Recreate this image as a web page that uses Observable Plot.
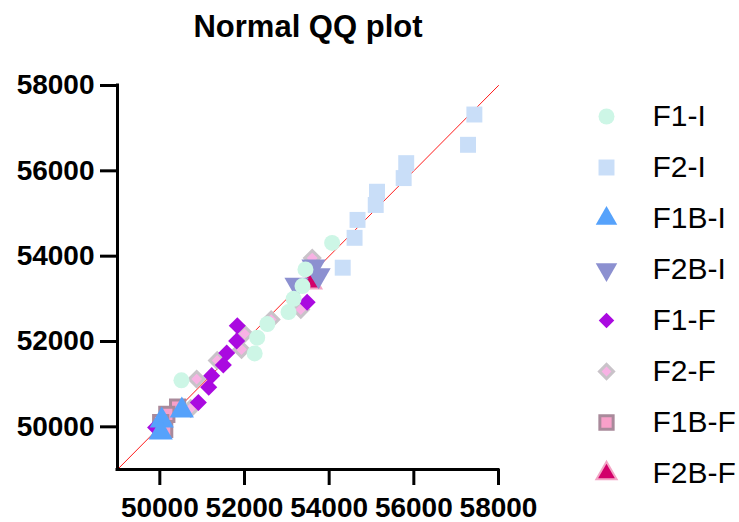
<!DOCTYPE html>
<html>
<head>
<meta charset="utf-8">
<script src="https://cdn.jsdelivr.net/npm/d3@7"></script>
<script src="https://cdn.jsdelivr.net/npm/@observablehq/plot@0.6"></script>
<style>
  html, body { margin: 0; padding: 0; background: #fff; }
  #wrap { position: relative; width: 739px; height: 522px; font-family: "Liberation Sans", Arial, sans-serif; }
  #title { position: absolute; left: 0; top: 11px; width: 616px; text-align: center; font-size: 31px; line-height: 31px; font-weight: bold; color: #000; }
  #main { position: absolute; left: 0; top: 0; }
  #legend { position: absolute; left: 579px; top: 0; }
</style>
</head>
<body>
<div id="wrap">
  <div id="main"></div>
  <div id="legend"></div>
  <div id="title">Normal QQ plot</div>
</div>
<script>
// ---- data ----
const seriesNames = ["F1-I", "F2-I", "F1B-I", "F2B-I", "F1-F", "F2-F", "F1B-F", "F2B-F"];
const axisDomain = [49000, 58000];
const xTicks = [50000, 52000, 54000, 56000, 58000];
const yTicks = [50000, 52000, 54000, 56000, 58000];
const refLine = [49000, 58000];

const f1iX = [54070, 53440, 53370, 53160, 53040, 52540, 52300, 52240, 50510];
const f1iY = [54310, 53690, 53300, 53000, 52690, 52410, 52090, 51720, 51090];

const f2iX = [57430, 57280, 55820, 55760, 55130, 55100, 54670, 54600, 54320];
const f2iY = [57320, 56610, 56180, 55830, 55510, 55200, 54850, 54430, 53730];

const f1biX = [50520, 50045, 50020];
const f1biY = [50380, 50150, 49870];

const f2biX = [53630, 53750, 53230];
const f2biY = [53760, 53550, 53330];

const f1fX = [53480, 51830, 51815, 51580, 51500, 51225, 51155, 50910, 49900];
const f1fY = [52920, 52370, 52010, 51730, 51450, 51200, 50930, 50570, 49985];

const f2fX = [53600, 53330, 52630, 52000, 51930, 51355, 50870, 50730];
const f2fY = [53955, 52750, 52515, 52180, 51810, 51555, 51120, 50430];

const f1bfX = [50420, 50165, 50020, 50115];
const f1bfY = [50465, 50290, 50100, 49940];

const f2bfX = [53560];
const f2bfY = [53390];

// ---- styles ----
const styles = {
  "F1-I":  {symbol: "circle",   r: 8,   fill: "#cdf6e6"},
  "F2-I":  {symbol: "square",   r: 9,   fill: "#c9def8"},
  "F1B-I": {symbol: "triangle", r: 9,   fill: "#56a2fb"},
  "F2B-I": {symbol: "triangle", r: 9,   fill: "#8c90d0", rotate: 180},
  "F1-F":  {symbol: "square",   r: 6.8, fill: "#aa0ae0", rotate: 45},
  "F2-F":  {symbol: "square",   r: 6,   fill: "#f8b2e4", stroke: "#c9c3c9", strokeWidth: 3, rotate: 45},
  "F1B-F": {symbol: "square",   r: 8,   fill: "#f8a0c9", stroke: "#a98a9b", strokeWidth: 3},
  "F2B-F": {symbol: "triangle", r: 8,   fill: "#d2006a", stroke: "#f3a5c5", strokeWidth: 2}
};
const legendR = {
  "F1-I": 8, "F2-I": 9, "F1B-I": 8, "F2B-I": 8,
  "F1-F": 6.2, "F2-F": 5.6, "F1B-F": 7.5, "F2B-F": 7.5
};

const seriesData = {
  "F1-I": [f1iX, f1iY], "F2-I": [f2iX, f2iY], "F1B-I": [f1biX, f1biY], "F2B-I": [f2biX, f2biY],
  "F1-F": [f1fX, f1fY], "F2-F": [f2fX, f2fY], "F1B-F": [f1bfX, f1bfY], "F2B-F": [f2bfX, f2bfY]
};

function rows(name) {
  const [xs, ys] = seriesData[name];
  return xs.map((x, i) => ({x, y: ys[i]}));
}

// later series drawn first so that F1-I sits on top
const drawOrder = seriesNames.slice().reverse();
const pointMarks = drawOrder.map(name => {
  const s = styles[name];
  return Plot.dot(rows(name), {
    x: "x", y: "y", symbol: s.symbol, r: s.r, fill: s.fill,
    stroke: s.stroke || "none", strokeWidth: s.strokeWidth || 0, rotate: s.rotate || 0
  });
});

const fmt = d => String(d);
const main = Plot.plot({
  width: 739, height: 522,
  marginLeft: 117, marginRight: 241, marginTop: 85, marginBottom: 53,
  x: {domain: axisDomain},
  y: {domain: axisDomain},
  style: {fontFamily: "'Liberation Sans', Arial, sans-serif", background: "transparent", color: "#000", overflow: "visible"},
  marks: [
    Plot.line(refLine, {x: d => d, y: d => d, stroke: "#ff1a1a", strokeWidth: 1}),
    ...pointMarks,
    Plot.ruleX([axisDomain[0]], {stroke: "#000", strokeWidth: 3, strokeLinecap: "square"}),
    Plot.ruleY([axisDomain[0]], {stroke: "#000", strokeWidth: 3, strokeLinecap: "square"}),
    Plot.axisX({ticks: xTicks, tickFormat: fmt, tickSize: 16, tickPadding: 12, strokeWidth: 3,
      fontSize: 28, fontWeight: "bold", label: null}),
    Plot.axisY({ticks: yTicks, tickFormat: fmt, tickSize: 17, tickPadding: 6, strokeWidth: 3,
      fontSize: 28, fontWeight: "bold", label: null})
  ]
});
document.getElementById("main").appendChild(main);

// ---- legend ----
const legendRows = seriesNames.map(name => ({name}));
const legendMarks = seriesNames.map(name => {
  const s = styles[name];
  return Plot.dot([{name}], {
    y: "name", frameAnchor: "left", dx: 27, symbol: s.symbol, r: legendR[name], fill: s.fill,
    stroke: s.stroke || "none", strokeWidth: s.strokeWidth || 0, rotate: s.rotate || 0
  });
});
const legend = Plot.plot({
  width: 160, height: 522,
  marginLeft: 0, marginRight: 0, marginTop: 0, marginBottom: 0,
  y: {type: "point", domain: seriesNames, range: [113, 475], padding: 0, axis: null},
  style: {fontFamily: "'Liberation Sans', Arial, sans-serif", background: "transparent", color: "#000", overflow: "visible"},
  marks: [
    ...legendMarks,
    Plot.text(legendRows, {y: "name", text: "name", frameAnchor: "left", dx: 73, textAnchor: "start",
      fontSize: 30, fill: "#000"})
  ]
});
document.getElementById("legend").appendChild(legend);
</script>
</body>
</html>
